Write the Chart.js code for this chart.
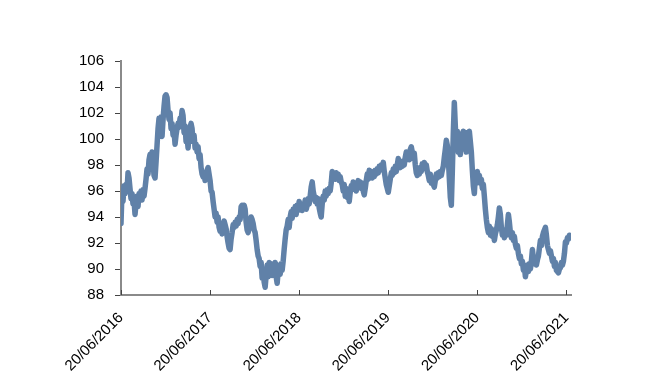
<!DOCTYPE html>
<html>
<head>
<meta charset="utf-8">
<script src="https://cdn.jsdelivr.net/npm/chart.js@4.4.1/dist/chart.umd.min.js"></script>
<style>
    html, body { margin: 0; padding: 0; background: #fff; }
    #wrap { width: 648px; height: 385px; }
</style>
</head>
<body>
<div id="wrap"><canvas id="graph"></canvas></div>
<script>
// one reading roughly every 4 days from 20/06/2016
const stepDays = 4.104;

const values = [
    93.5, 96.0, 95.2, 96.4, 95.8, 96.5, 96.0, 97.4, 97.0, 96.2,
    95.4, 95.8, 95.0, 95.3, 94.2, 95.0, 95.6, 94.8, 95.8, 95.5,
    96.0, 95.3, 96.1, 95.6, 96.2, 96.9, 97.7, 97.3, 98.4, 98.8,
    98.5, 99.0, 98.2, 97.2, 97.0, 98.2, 99.5, 100.8, 101.6, 101.0,
    101.7, 100.2, 101.5, 102.5, 103.3, 103.4, 103.2, 102.2, 101.5, 102.0,
    100.8, 101.2, 100.3, 100.6, 99.6, 100.3, 100.8, 101.2, 100.9, 101.6,
    101.4, 102.2, 101.8, 100.5, 101.0, 99.8, 100.2, 99.3, 100.4, 100.9,
    101.2, 100.8, 99.8, 100.3, 99.3, 99.6, 99.0, 99.4, 98.5, 98.8,
    97.8, 97.3, 97.1, 97.4, 96.8, 97.2, 97.6, 97.8, 97.3, 96.8,
    96.0, 95.9, 95.2, 94.6, 94.0, 94.3, 93.6, 94.0, 93.2, 92.9,
    93.4, 92.7, 93.2, 93.7, 93.4, 93.1, 92.5, 92.0, 91.6, 91.5,
    92.3, 92.8, 93.4, 93.2, 93.6, 93.3, 93.8, 93.5, 94.0, 93.8,
    94.8, 94.9, 94.4, 94.9, 94.6, 93.6, 93.0, 92.8, 93.2, 93.5,
    94.0, 93.8, 93.5, 93.0, 92.8, 92.2, 91.5, 91.0, 90.8, 90.2,
    90.5, 89.3, 90.0, 89.0, 88.6, 89.5, 90.3, 89.4, 90.5, 89.6,
    90.4, 89.5, 90.2, 89.7, 90.5, 89.4, 88.9, 89.8, 90.3, 89.6,
    90.4, 89.9, 90.6, 91.5, 92.3, 93.0, 93.3, 93.8, 93.2, 94.0,
    94.4, 93.9, 94.6, 94.3, 94.8, 94.2, 94.9, 94.5, 95.2, 94.6,
    95.0, 94.5, 95.0, 94.8, 95.3, 94.6, 94.9, 95.4, 95.0, 95.6,
    96.3, 96.7, 96.0, 95.6, 95.2, 95.5, 95.0, 95.4, 94.7, 94.3,
    94.0, 95.0, 95.6, 95.3, 96.0, 95.6, 96.1, 95.8, 96.2, 96.0,
    96.6, 97.5, 97.0, 97.3, 96.9, 97.4, 97.0, 97.3, 96.8, 97.1,
    96.7, 96.5, 96.0, 96.5, 95.6, 96.2, 95.5, 95.8, 95.2, 95.9,
    96.4, 96.1, 96.7, 96.3, 96.5, 96.0, 96.4, 96.8, 96.3, 96.7,
    96.2, 96.6, 96.0, 95.7, 96.2, 96.8, 97.3, 96.9, 97.6, 97.2,
    97.5, 97.0, 97.4, 97.1, 97.6, 97.3, 97.7, 97.4, 97.9, 97.6,
    98.0, 97.8, 98.2, 97.5, 97.0, 96.5, 96.2, 95.9, 96.4, 96.9,
    97.4, 97.2, 97.7, 97.4, 97.9, 97.5, 98.0, 98.5, 98.1, 97.8,
    98.2, 97.9, 98.3, 98.0, 98.6, 99.0, 98.5, 98.8, 98.4, 99.2,
    99.4, 99.0, 98.5, 98.9, 98.0, 97.4, 97.2, 97.6, 97.3, 97.8,
    97.5, 98.1, 97.7, 98.2, 97.9, 98.0, 97.5, 97.2, 96.8, 97.3,
    96.6, 97.0, 96.5, 96.3, 96.8, 97.3, 97.0, 97.4, 97.1, 97.5,
    97.2, 97.6, 97.9, 98.6, 99.2, 99.9, 99.5, 98.5, 97.0, 95.5,
    94.9, 97.5, 100.5, 102.8, 101.0, 99.5, 100.6, 99.0, 100.4, 98.8,
    100.2, 99.2, 100.6, 99.4, 100.3, 99.0, 100.5, 99.5, 100.6, 99.8,
    99.0, 97.6, 96.4, 95.8, 97.2, 96.6, 97.5, 96.8, 97.2, 96.6,
    96.9, 96.2, 96.5, 95.6, 94.6, 93.8, 93.2, 92.8, 93.3, 92.6,
    93.1, 92.5, 92.9, 92.2, 92.7, 93.0, 93.4, 94.0, 94.7, 94.2,
    93.2, 92.6, 93.0, 92.4, 92.8, 92.6, 93.4, 94.2, 93.6, 92.8,
    92.4, 92.8, 92.2, 92.5, 91.9, 91.6, 91.8, 91.2, 90.8, 91.0,
    90.4, 90.6, 89.9, 90.2, 89.4, 89.9, 90.3, 89.8, 90.4, 90.0,
    90.6, 91.5, 90.8, 90.4, 90.8, 90.3, 90.7, 91.0, 91.6, 92.2,
    91.8, 92.5, 92.8, 93.0, 93.2, 92.6, 91.8, 91.5, 91.2, 91.4,
    91.0, 90.6, 90.8, 90.2, 90.5, 89.9, 89.8, 89.7, 90.0, 90.1,
    90.5, 90.3, 90.6, 91.2, 92.1, 92.0, 92.4, 92.3, 92.6, 92.5
];

// days after 20/06/2016 where the x ticks sit
const tickDays = [0, 365, 730, 1095, 1461, 1826];
const tickLabels = ['20/06/2016', '20/06/2017', '20/06/2018', '20/06/2019', '20/06/2020', '20/06/2021'];

const lineColor = '#6081a8';
const axisColor = '#8a8a8a';
const tickColor = '#444444';
const fontFamily = '"Liberation Sans", Arial, sans-serif';

const points = values.map((v, i) => ({x: i * stepDays, y: v}));

// x tick marks point up into the plot, so draw them here
const innerTicks = {
    id: 'innerTicks',
    afterDraw(chart) {
        const scale = chart.scales.x;
        const ctx = chart.ctx;
        ctx.save();
        ctx.strokeStyle = tickColor;
        ctx.lineWidth = 1;
        scale.ticks.forEach(t => {
            const px = Math.round(scale.getPixelForValue(t.value)) + 0.5;
            ctx.beginPath();
            ctx.moveTo(px, scale.top);
            ctx.lineTo(px, scale.top - 5);
            ctx.stroke();
        });
        ctx.restore();
    }
};

const canvas = document.getElementById('graph');

new Chart(canvas, {
    type: 'line',
    data: {
        datasets: [{
            data: points,
            borderColor: lineColor,
            borderWidth: 5.5,
            pointRadius: 0,
            tension: 0,
            fill: false,
            borderJoinStyle: 'round',
            borderCapStyle: 'round'
        }]
    },
    options: {
        responsive: true,
        maintainAspectRatio: false,
        animation: false,
        layout: {
            padding: {left: 0, top: 61, right: 77, bottom: 0}
        },
        plugins: {
            legend: {display: false},
            tooltip: {enabled: false}
        },
        scales: {
            x: {
                type: 'linear',
                min: 0,
                max: 1845,
                afterFit: scale => { scale.height = 90; },
                afterBuildTicks: scale => {
                    scale.ticks = tickDays.map(d => ({value: d}));
                },
                grid: {display: false},
                border: {display: true, color: axisColor, width: 2},
                ticks: {
                    autoSkip: false,
                    minRotation: 45,
                    maxRotation: 45,
                    padding: 6,
                    color: '#000',
                    font: {family: fontFamily, size: 15},
                    callback: (value, index) => tickLabels[index]
                }
            },
            y: {
                type: 'linear',
                min: 88,
                max: 106,
                afterFit: scale => { scale.width = 121; },
                grid: {
                    drawOnChartArea: false,
                    drawTicks: true,
                    tickLength: 6,
                    tickColor: tickColor
                },
                border: {display: true, color: axisColor, width: 2},
                ticks: {
                    stepSize: 2,
                    padding: 11,
                    color: '#000',
                    font: {family: fontFamily, size: 15}
                }
            }
        }
    },
    plugins: [innerTicks]
});
</script>
</body>
</html>
